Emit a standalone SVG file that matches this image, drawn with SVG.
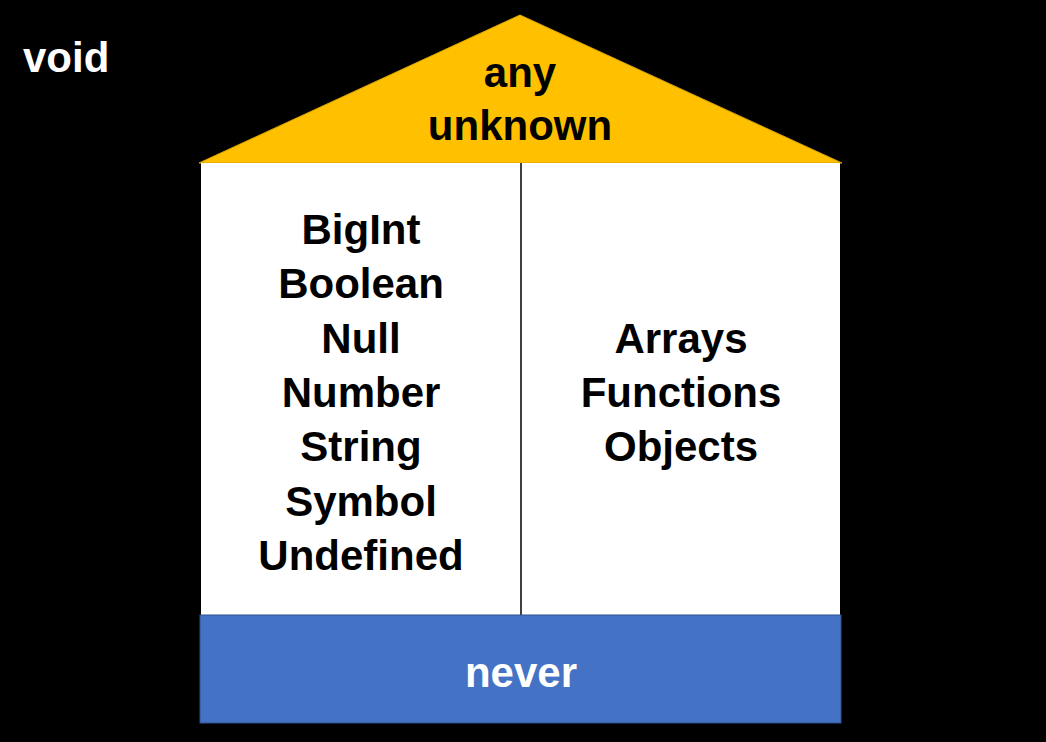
<svg xmlns="http://www.w3.org/2000/svg" width="1046" height="742" viewBox="0 0 1046 742">
<style>
text{font-family:"Liberation Sans",Arial,sans-serif;font-weight:bold;font-size:42px;text-anchor:middle}
.dk{fill:#000}
.lt{fill:#fff}
</style>
<rect x="0" y="0" width="1046" height="742" fill="#000"/>
<g id="void"><text class="lt" x="23" y="72" style="text-anchor:start">void</text></g>
<g id="roof">
<polygon points="520,15 199,163 842,163" fill="#FFC000" stroke="#D9A300" stroke-width="1"/>
<text class="dk" x="520" y="87">any</text>
<text class="dk" x="520" y="140">unknown</text>
</g>
<g id="primitives">
<rect x="201" y="163" width="320" height="452" fill="#fff"/>
<text class="dk" x="361" y="244">BigInt</text>
<text class="dk" x="361" y="298">Boolean</text>
<text class="dk" x="361" y="353">Null</text>
<text class="dk" x="361" y="407">Number</text>
<text class="dk" x="361" y="461">String</text>
<text class="dk" x="361" y="516">Symbol</text>
<text class="dk" x="361" y="570">Undefined</text>
</g>
<g id="objects">
<rect x="521" y="163" width="319" height="452" fill="#fff"/>
<text class="dk" x="681" y="353">Arrays</text>
<text class="dk" x="681" y="407">Functions</text>
<text class="dk" x="681" y="461">Objects</text>
</g>
<g id="connectors">
<line x1="521" y1="163" x2="521" y2="615" stroke="#000" stroke-width="1.5"/>
</g>
<g id="never">
<rect x="200" y="615" width="641" height="108" fill="#4472C4" stroke="#2F528F" stroke-width="1"/>
<text class="lt" x="521" y="687">never</text>
</g>
</svg>
